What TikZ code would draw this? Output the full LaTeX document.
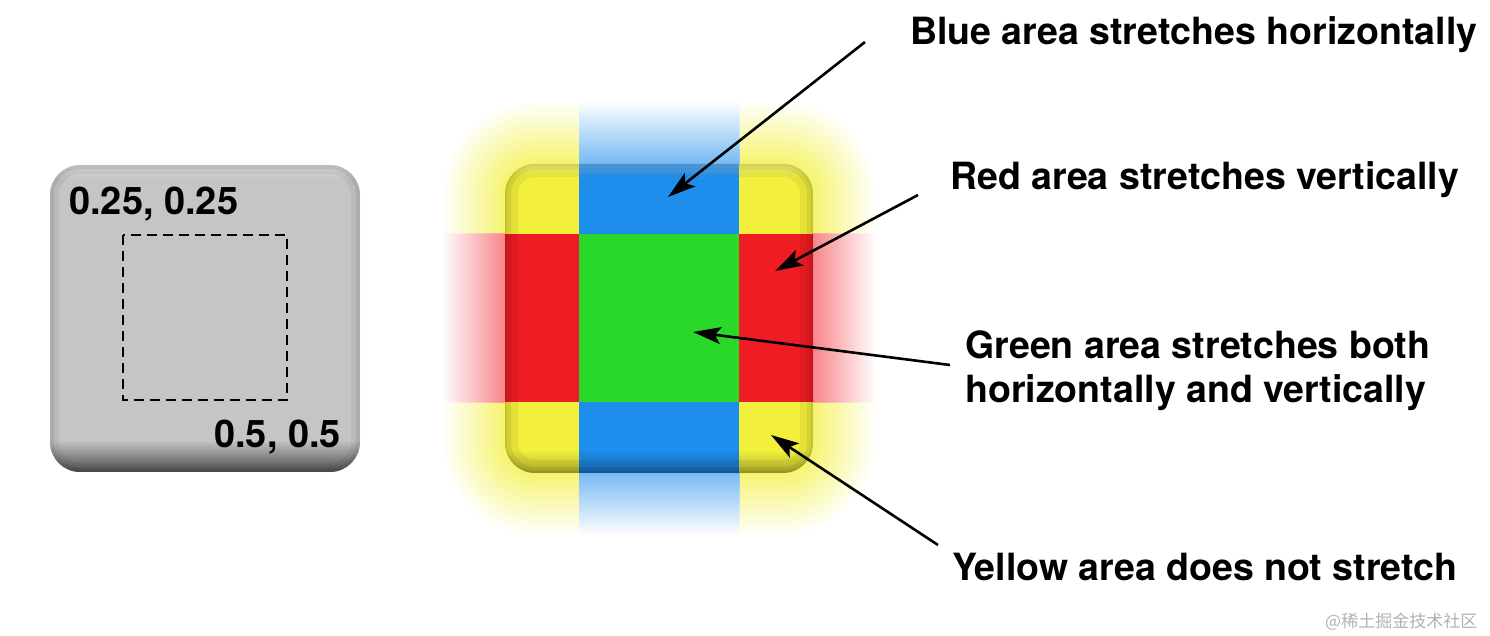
\documentclass[tikz,border=0pt]{standalone}
\usepackage{fontspec}
\setmainfont{TeX Gyre Heros}
\newfontfamily\cjk{Noto Sans CJK SC}
\usetikzlibrary{arrows.meta,fadings}
\definecolor{yel}{RGB}{242,240,60}
\definecolor{blu}{RGB}{30,142,236}
\definecolor{grn}{RGB}{42,216,42}
\definecolor{rd}{RGB}{240,28,36}
\definecolor{btngray}{RGB}{197,197,197}
\colorlet{yglo}{yel!75!white}
\colorlet{bglo}{blu!62!white}
\colorlet{rglo}{rd!55!white}
% nested rounded rectangles: a glow that fades with the distance from the button
\newcommand\glowstack[1]{%
  \foreach \d in {64,62,...,0} {%
    \pgfmathtruncatemacro\p{100-100*\d/64}%
    \pgfmathsetmacro\r{30+\d}%
    \fill[#1!\p!white, rounded corners=\r pt] (505-\d,164-\d) rectangle (813+\d,473+\d);
  }%
}
\tikzset{
  lbl/.style={font=\fontsize{37.5}{44}\selectfont\bfseries, inner sep=0pt, anchor=base west},
  num/.style={font=\fontsize{38}{44}\selectfont\bfseries, inner sep=0pt, anchor=base west},
  pointer/.style={line width=2.6pt, -{Stealth[length=28pt,width=17pt,inset=6pt]}},
}
\begin{document}
\begin{tikzpicture}[x=1pt,y=-1pt]
\useasboundingbox (0,0) rectangle (1490,636);
\fill[white] (0,0) rectangle (1490,636);

% ---------- left gray button ----------
\begin{scope}
  \clip[rounded corners=30pt] (50,165) rectangle (360,472);
  \fill[btngray] (50,165) rectangle (360,472);
  \fill[white, opacity=0.35, path fading=south] (50,165) rectangle (360,180);
  \fill[black, opacity=0.6, path fading=north] (50,440) rectangle (360,472);
  \draw[black, opacity=0.05, line width=18pt, rounded corners=30pt] (50,165) rectangle (360,472);
  \draw[black, opacity=0.07, line width=8pt, rounded corners=30pt] (50,165) rectangle (360,472);
\end{scope}
\draw[black, line width=2.8pt, dash pattern=on 10pt off 6pt] (123,235) rectangle (287,400);
\node[num] (n1) at (69,215) {0.25, 0.25};
\node[num] (n2) at (214,447) {0.5, 0.5};

% ---------- glow ----------
\begin{scope}
  \clip (400,50) rectangle (579,234) (739,50) rectangle (930,234)
        (400,402) rectangle (579,590) (739,402) rectangle (930,590);
  \glowstack{yglo}
\end{scope}
\begin{scope}
  \clip (579,50) rectangle (739,234) (579,402) rectangle (739,590);
  \glowstack{bglo}
\end{scope}
\begin{scope}
  \clip (400,234) rectangle (579,402) (739,234) rectangle (930,402);
  \glowstack{rglo}
\end{scope}

% ---------- coloured button ----------
\begin{scope}
  \clip[rounded corners=30pt] (505,164) rectangle (813,473);
  \fill[yel] (505,164) rectangle (813,473);
  \fill[blu] (579,164) rectangle (739,473);
  \fill[rd] (505,234) rectangle (813,402);
  \fill[grn] (579,234) rectangle (739,402);
  \draw[black, opacity=0.06, line width=26pt, rounded corners=30pt] (505,164) rectangle (813,473);
  \draw[black, opacity=0.07, line width=12pt, rounded corners=30pt] (505,164) rectangle (813,473);
  \draw[black, opacity=0.07, line width=4pt, rounded corners=30pt] (505,164) rectangle (813,473);
  \fill[white, opacity=0.25, path fading=south] (505,164) rectangle (813,178);
  \fill[black, opacity=0.25, path fading=north] (505,450) rectangle (813,473);
\end{scope}

% ---------- labels ----------
\node[lbl] (tb) at (910,45) {Blue area stretches horizontally};
\node[lbl] (tr) at (950,190) {Red area stretches vertically};
\node[lbl, anchor=north west, align=left] (tg) at (965,331) {Green area stretches both\\horizontally and vertically};
\node[lbl] (ty) at (952,580) {Yellow area does not stretch};

% ---------- arrows ----------
\coordinate (bs) at (865,42);  \coordinate (bt) at (668,197);
\coordinate (rs) at (918,195); \coordinate (rt) at (775,271);
\coordinate (gs) at (950,365); \coordinate (gt) at (693,332);
\coordinate (ys) at (938,545); \coordinate (yt) at (771,435);
\draw[pointer] (bs) -- (bt);
\draw[pointer] (rs) -- (rt);
\draw[pointer] (gs) -- (gt);
\draw[pointer] (ys) -- (yt);

% ---------- watermark ----------
\node[inner sep=0pt, anchor=base west, text=black!30, font=\cjk\fontsize{17}{17}\selectfont] (wm) at (1325,627) {@稀土掘金技术社区};
\end{tikzpicture}
\end{document}
